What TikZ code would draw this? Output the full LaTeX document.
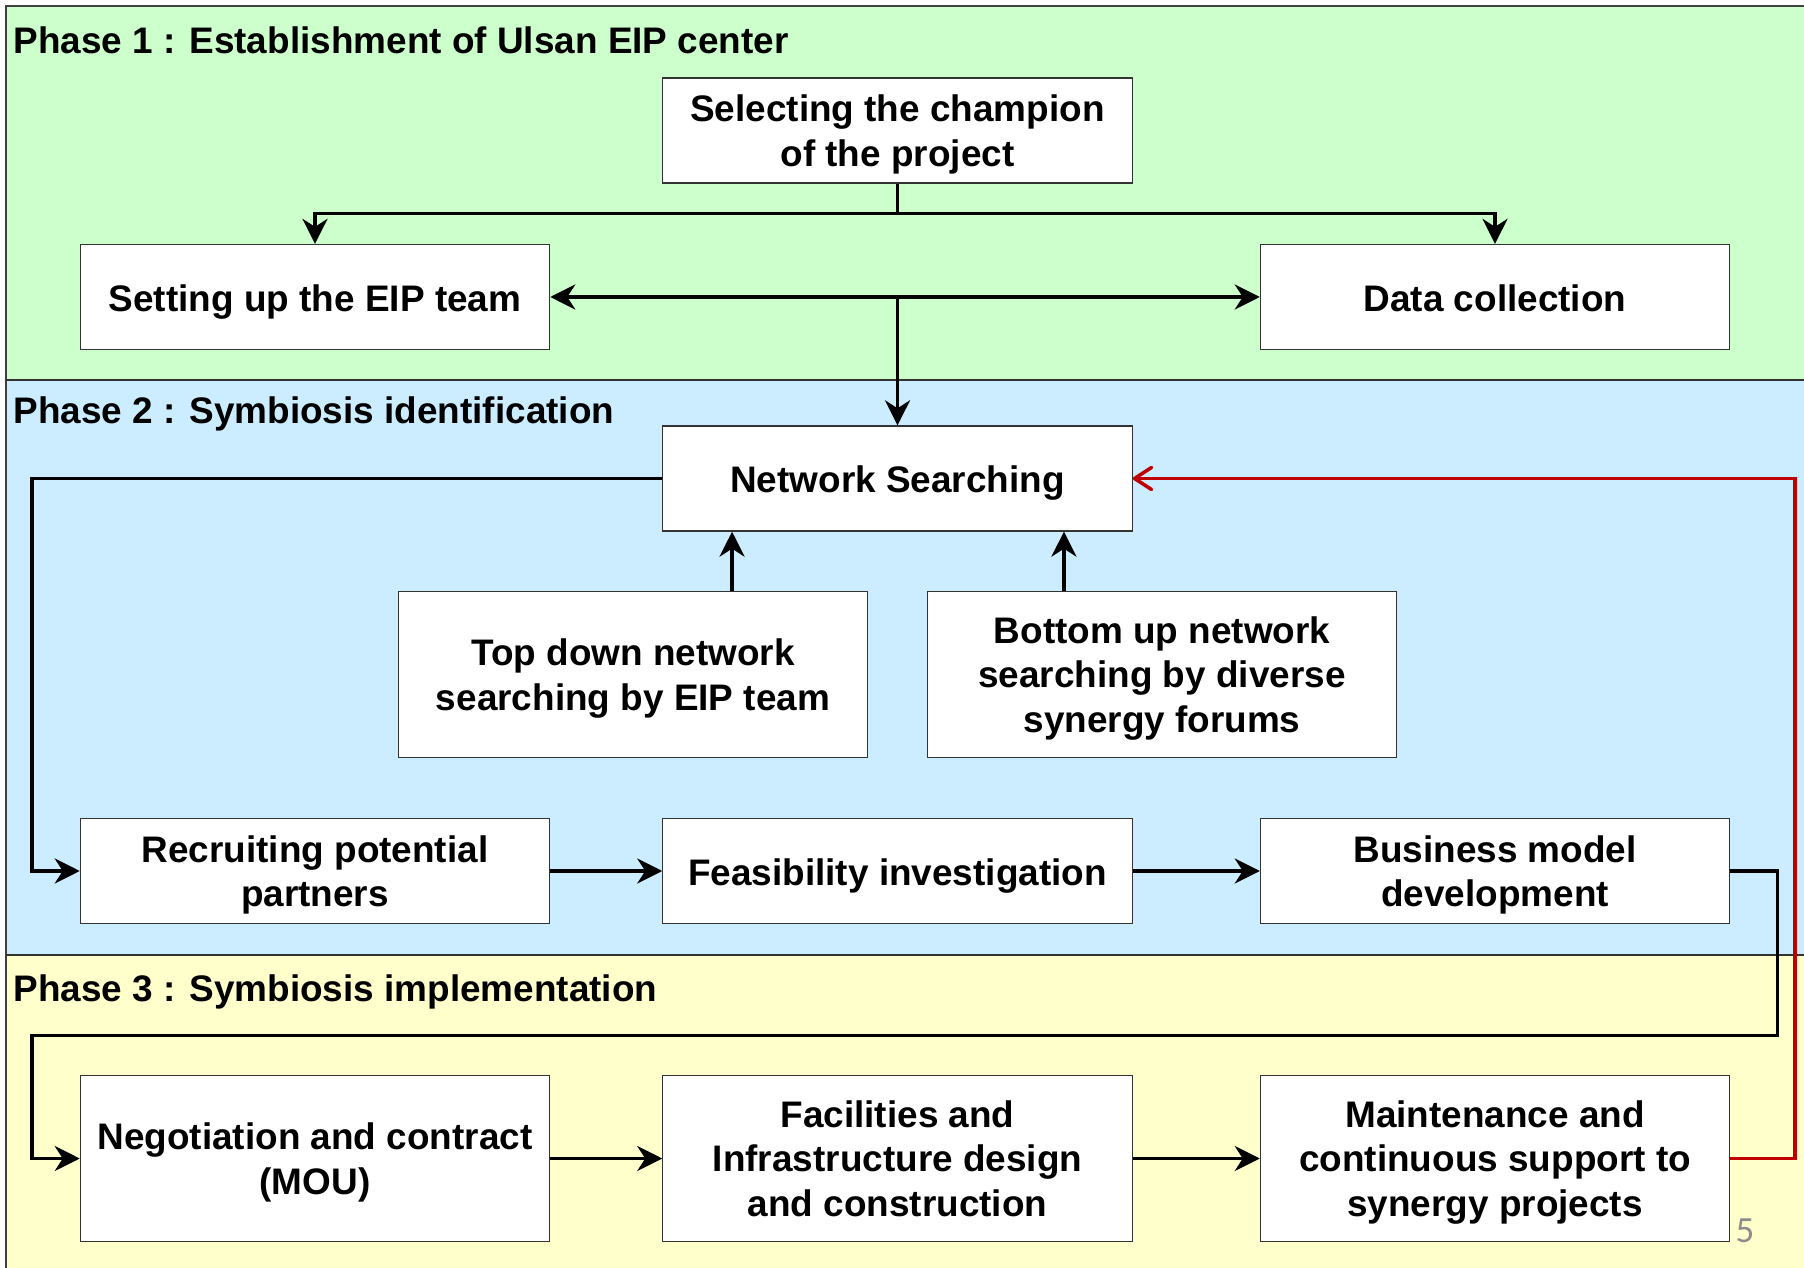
\documentclass[tikz,border=0pt]{standalone}
\usepackage{fontspec}
\setmainfont{Liberation Sans}
\newfontfamily\pagefont{Carlito}
\usetikzlibrary{arrows.meta,positioning}
\definecolor{phaseone}{HTML}{CCFFCC}
\definecolor{phasetwo}{HTML}{CCECFF}
\definecolor{phasethree}{HTML}{FFFFCC}
\definecolor{loopred}{HTML}{C00000}
\begin{document}
\begin{tikzpicture}[x=0.01cm, y=-0.01cm,
		>={Stealth[length=0.25cm, width=0.25cm, inset=0.08cm]},
		stepbox/.style={draw=black!80, fill=white, line width=0.35pt, inner sep=0pt,
			minimum width=4.69cm, minimum height=1.05cm, align=center, text depth=2.3pt,
			execute at begin node={\rule{0pt}{10.3pt}},
			font=\fontsize{10.5}{12.7}\selectfont\bfseries},
		multiline/.style={text depth=-0.3pt},
		tallbox/.style={stepbox, multiline, minimum height=1.66cm},
		phaselabel/.style={anchor=base west, inner sep=0pt,
			font=\fontsize{10.5}{12.7}\selectfont\bfseries},
		arr/.style={line width=1pt, ->},
		feedback/.style={line width=1pt, draw=loopred,
			-{Straight Barb[length=0.17cm, width=0.22cm, round]}}
		]
	\useasboundingbox (0,0) rectangle (1804,1268);
	% phase bands
	\fill[phaseone] (6,6) rectangle (1804,380);
	\fill[phasetwo] (6,380) rectangle (1804,955);
	\fill[phasethree] (6,955) rectangle (1804,1268);
	\draw[black!75, line width=0.5pt] (1804,6) -- (6,6) -- (6,1268);
	\draw[black!80, line width=0.3pt] (6,380) -- (1804,380);
	\draw[black!80, line width=0.3pt] (6,955) -- (1804,955);
	\node[phaselabel] (p1) at (13,53.5) {Phase 1 : Establishment of Ulsan EIP center};
	\node[phaselabel] (p2) at (13,424) {Phase 2 : Symbiosis identification};
	\node[phaselabel] (p3) at (13,1001.5) {Phase 3 : Symbiosis implementation};

	% phase 1
	\node[stepbox, multiline] (champ) at (897.5,130.5) {Selecting the champion\\of the project};
	\node[stepbox] (setup) at (315,297) {Setting up the EIP team};
	\node[stepbox] (data) at (1495,297) {Data collection};
	% phase 2
	\node[stepbox] (netsearch) at (897.5,478.5) {Network Searching};
	\node[tallbox] (topdown) at (633,674.5) {Top down network\\searching by EIP team};
	\node[tallbox] (bottomup) at (1162,674.5) {Bottom up network\\searching by diverse\\synergy forums};
	\node[stepbox, multiline] (recruit) at (315,871) {Recruiting potential\\partners};
	\node[stepbox] (feas) at (897.5,871) {Feasibility investigation};
	\node[stepbox, multiline] (business) at (1495,871) {Business model\\development};
	% phase 3
	\node[tallbox] (negot) at (315,1158.5) {Negotiation and contract\\(MOU)};
	\node[tallbox] (facil) at (897.5,1158.5) {Facilities and\\Infrastructure design\\and construction};
	\node[tallbox] (maint) at (1495,1158.5) {Maintenance and\\continuous support to\\synergy projects};
	\node[text=black!45, font=\pagefont\fontsize{10.5}{12}\selectfont, inner sep=0pt] (pagenum) at (1745,1231) {5};

	% connectors
	\coordinate (split1) at (897.5,213.5);
	\coordinate (turnR) at (1777.5,1035.5);
	\coordinate (turnL) at (32,1035.5);
	\coordinate (redR) at (1795,478.5);
	\draw[line width=1pt] (champ.south) -- (split1);
	\draw[arr] (split1) -| (setup.north);
	\draw[arr] (split1) -| (data.north);
	\draw[arr, <->] (setup.east) -- (data.west);
	\draw[arr] (setup.east -| netsearch) -- (netsearch.north);
	\draw[arr] ([xshift=0.99cm]topdown.north) -- ([xshift=0.99cm]topdown.north |- netsearch.south);
	\draw[arr] ([xshift=-0.98cm]bottomup.north) -- ([xshift=-0.98cm]bottomup.north |- netsearch.south);
	\draw[arr] (netsearch.west) -- ++(-630.5,0) |- (recruit.west);
	\draw[arr] (recruit) -- (feas);
	\draw[arr] (feas) -- (business);
	\draw[arr] (business.east) -| (turnR) -- (turnL) |- (negot.west);
	\draw[arr] (negot) -- (facil);
	\draw[arr] (facil) -- (maint);
	\draw[feedback] (maint.east) -| (redR) -- (netsearch.east);
\end{tikzpicture}
\end{document}
